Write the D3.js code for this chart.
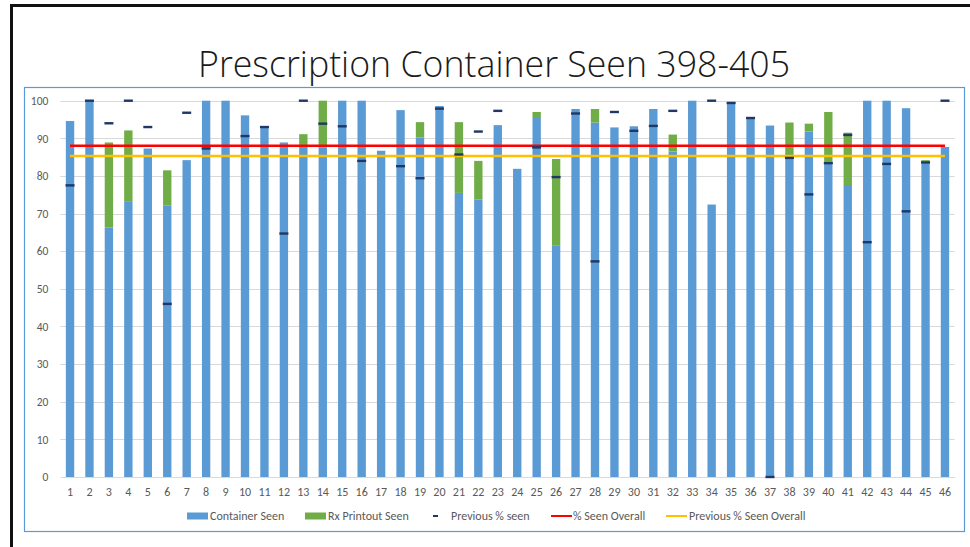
<!DOCTYPE html>
<html>
<head>
<meta charset="utf-8">
<script src="https://cdn.jsdelivr.net/npm/d3@7"></script>
<style>
  html, body { margin: 0; padding: 0; background: #fff; }
  svg { display: block; }
</style>
</head>
<body>
<svg id="chart" width="970" height="547"></svg>
<script>
// Site numbers along the x axis
const categories = ["1","2","3","4","5","6","7","8","9","10","11","12","13","14","15","16","17","18","19","20","21","22","23","24","25","26","27","28","29","30","31","32","33","34","35","36","37","38","39","40","41","42","43","44","45","46"];

// % of visits where the container itself was seen
const containerSeen = [94.6,100,66.3,73.3,87.3,72.2,84.2,100,100,96.1,93.0,88.9,88.2,87.5,100,100,86.7,97.5,90.2,98.6,75.5,73.7,93.5,81.9,95.4,61.6,97.8,94.2,92.9,93.2,97.8,86.5,100,72.4,99.5,95.6,93.4,84.9,91.8,83.4,77.6,100,100,98.0,83.8,87.7];

// additional % seen only through the Rx printout (stacked on top)
const printoutSeen = [0,0,22.6,18.8,0,9.3,0,0,0,0,0,0,2.9,12.5,0,0,0,0,4.1,0,18.8,10.3,0,0,1.6,22.9,0,3.6,0,0,0,4.5,0,0,0,0,0,9.3,2.1,13.6,13.9,0,0,0,0.4,0];

// previous round's % seen (null = no previous figure)
const previousSeen = [77.5,100,94.0,100,93.0,46.0,96.8,87.3,null,90.6,93.0,64.7,100,93.9,93.2,84.0,null,82.6,79.4,97.9,85.7,91.8,97.3,null,87.6,79.7,96.6,57.3,97.0,92.0,93.3,97.3,null,100,99.4,95.4,0,84.8,75.1,83.4,90.9,62.4,83.2,70.6,83.6,100];

const seenOverall = 88.0;
const previousSeenOverall = 85.3;

const yTicks = [0,10,20,30,40,50,60,70,80,90,100];

const seriesNames = ["Container Seen","Rx Printout Seen","Previous % seen","% Seen Overall","Previous % Seen Overall"];

const colors = {
  container: "#5B9BD5",
  printout: "#70AD47",
  previous: "#1F3864",
  overall: "#FF0000",
  prevOverall: "#FFC000",
  grid: "#D9D9D9",
  text: "#595959"
};

const svg = d3.select("#chart");
const font = "Calibri, Carlito, 'Open Sans', 'Liberation Sans', sans-serif";

// slide frame
svg.append("path")
  .attr("d", "M11.5,547 L11.5,5.5 L970,5.5")
  .attr("fill", "none")
  .attr("stroke", "#111")
  .attr("stroke-width", 3);

// title
svg.append("text")
  .attr("x", 494)
  .attr("y", 77)
  .attr("text-anchor", "middle")
  .attr("font-family", "'Open Sans', 'Liberation Sans', sans-serif")
  .attr("font-weight", 300)
  .attr("font-size", 36)
  .attr("fill", "#1a1a1a")
  .attr("textLength", 592)
  .attr("lengthAdjust", "spacingAndGlyphs")
  .text("Prescription Container Seen 398-405");

// chart box
svg.append("rect")
  .attr("x", 24.5).attr("y", 87.5)
  .attr("width", 940).attr("height", 444)
  .attr("fill", "#fff")
  .attr("stroke", "#5B9BD5")
  .attr("stroke-width", 1.2);

const plot = { left: 60.3, right: 954.7, top: 100.7, bottom: 477 };

const x = d3.scaleBand()
  .domain(categories)
  .range([plot.left, plot.right])
  .paddingInner(0.57)
  .paddingOuter(0.285);

const y = d3.scaleLinear()
  .domain([0, 100])
  .range([plot.bottom, plot.top]);

// gridlines
svg.append("g")
  .selectAll("line")
  .data(yTicks.filter(t => t > 0))
  .join("line")
  .attr("x1", plot.left).attr("x2", plot.right)
  .attr("y1", d => Math.round(y(d)) + 0.5)
  .attr("y2", d => Math.round(y(d)) + 0.5)
  .attr("stroke", colors.grid)
  .attr("stroke-width", 1);

// y axis labels
const yAxis = d3.axisLeft(y).tickValues(yTicks).tickSize(0).tickPadding(0);
const yg = svg.append("g")
  .attr("transform", `translate(${plot.left - 12},0)`)
  .call(yAxis);
yg.select(".domain").remove();
yg.selectAll("text")
  .attr("font-family", font)
  .attr("font-size", 11.5)
  .attr("fill", colors.text);

// x axis
const xAxis = d3.axisBottom(x).tickSize(0).tickPadding(10);
const xg = svg.append("g")
  .attr("transform", `translate(0,${plot.bottom})`)
  .call(xAxis);
xg.select(".domain")
  .attr("stroke", colors.grid)
  .attr("stroke-width", 1);
xg.selectAll("text")
  .attr("font-family", font)
  .attr("font-size", 12)
  .attr("fill", colors.text);

// stacked bars
const rows = categories.map((c, i) => ({ cat: c, container: containerSeen[i], printout: printoutSeen[i] }));
const stack = d3.stack().keys(["container", "printout"])(rows);
const stackColors = [colors.container, colors.printout];

svg.append("g")
  .selectAll("g")
  .data(stack)
  .join("g")
  .attr("fill", (d, i) => stackColors[i])
  .selectAll("rect")
  .data(d => d.filter(s => s[1] - s[0] > 0))
  .join("rect")
  .attr("x", d => x(d.data.cat))
  .attr("width", x.bandwidth())
  .attr("y", d => y(d[1]))
  .attr("height", d => y(d[0]) - y(d[1]));

// overall reference lines
const xFirst = x(categories[0]) + x.bandwidth() / 2;
const xLast = x(categories[categories.length - 1]) + x.bandwidth() / 2;

svg.append("line")
  .attr("x1", xFirst).attr("x2", xLast)
  .attr("y1", y(seenOverall)).attr("y2", y(seenOverall))
  .attr("stroke", colors.overall)
  .attr("stroke-width", 2.5);

svg.append("line")
  .attr("x1", xFirst).attr("x2", xLast)
  .attr("y1", y(previousSeenOverall)).attr("y2", y(previousSeenOverall))
  .attr("stroke", colors.prevOverall)
  .attr("stroke-width", 2.5);

// previous % seen dash markers
svg.append("g")
  .selectAll("rect")
  .data(categories.map((c, i) => ({ cat: c, v: previousSeen[i] })).filter(d => d.v !== null))
  .join("rect")
  .attr("x", d => x(d.cat) + x.bandwidth() / 2 - 4.5)
  .attr("width", 9)
  .attr("y", d => y(d.v) - 1.2)
  .attr("height", 2.4)
  .attr("fill", colors.previous);

// legend
const legend = svg.append("g")
  .attr("font-family", font)
  .attr("font-size", 12)
  .attr("fill", colors.text);
const ly = 516;

legend.append("rect").attr("x", 187).attr("y", ly - 3.5).attr("width", 21).attr("height", 7).attr("fill", colors.container);
legend.append("text").attr("x", 210).attr("y", ly + 4).text(seriesNames[0]);

legend.append("rect").attr("x", 305).attr("y", ly - 3.5).attr("width", 21).attr("height", 7).attr("fill", colors.printout);
legend.append("text").attr("x", 328).attr("y", ly + 4).text(seriesNames[1]);

legend.append("rect").attr("x", 433).attr("y", ly - 1).attr("width", 5).attr("height", 2).attr("fill", colors.previous);
legend.append("text").attr("x", 451).attr("y", ly + 4).text(seriesNames[2]);

legend.append("line").attr("x1", 551).attr("x2", 572).attr("y1", ly).attr("y2", ly).attr("stroke", colors.overall).attr("stroke-width", 2);
legend.append("text").attr("x", 573).attr("y", ly + 4).text(seriesNames[3]);

legend.append("line").attr("x1", 666).attr("x2", 687).attr("y1", ly).attr("y2", ly).attr("stroke", colors.prevOverall).attr("stroke-width", 2);
legend.append("text").attr("x", 689).attr("y", ly + 4).text(seriesNames[4]);
</script>
</body>
</html>
